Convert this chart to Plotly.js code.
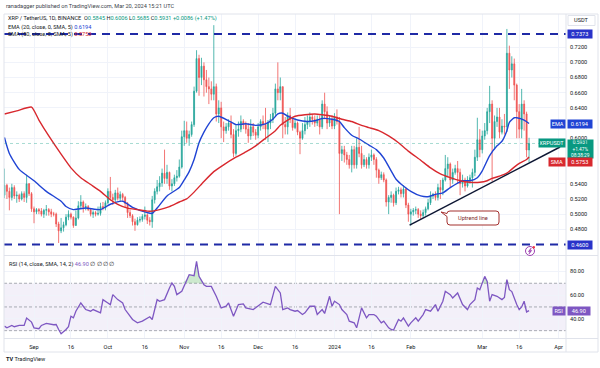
<!DOCTYPE html>
<html><head><meta charset="utf-8">
<script src="https://cdn.plot.ly/plotly-3.0.1.min.js"></script>
<style>html,body{margin:0;padding:0;background:#fff}#chart{width:600px;height:368px}</style>
</head><body><div id="chart"></div>
<script>
// ---------- DATA ----------
const firstDate = '2023-08-20';
const firstOpen = 0.525;
const closes = [
 0.538,0.530,0.522,0.535,0.524,0.525,0.520,0.527,0.522,0.540,0.527,0.507,
 0.503,0.506,0.504,0.500,0.505,0.506,0.503,0.500,0.500,0.487,0.478,0.482,0.486,0.496,0.500,0.496,0.485,0.495,0.511,0.516,0.509,0.510,0.506,0.500,0.502,0.500,0.501,0.510,0.508,0.515,
 0.530,0.522,0.519,0.528,0.521,0.526,0.522,0.514,0.502,0.498,0.490,0.486,0.492,0.493,0.497,0.499,0.492,0.490,0.519,0.530,0.536,0.541,0.554,0.547,0.555,0.537,0.540,0.548,0.550,0.562,0.602,
 0.610,0.600,0.605,0.618,0.662,0.705,0.680,0.695,0.677,0.668,0.665,0.658,0.668,0.632,0.640,0.615,0.610,0.615,0.620,0.605,0.580,0.610,0.612,0.622,0.618,0.612,0.603,0.615,0.608,0.604,
 0.615,0.622,0.618,0.612,0.620,0.625,0.633,0.665,0.660,0.668,0.618,0.615,0.630,0.625,0.614,0.620,0.608,0.600,0.610,0.618,0.622,0.628,0.625,0.620,0.625,0.615,0.645,0.635,0.620,0.625,0.616,
 0.628,0.622,0.580,0.585,0.578,0.572,0.565,0.585,0.565,0.588,0.580,0.565,0.572,0.565,0.575,0.578,0.572,0.558,0.548,0.552,0.545,0.516,0.522,0.525,0.515,0.530,0.532,0.527,0.533,0.512,0.500,
 0.503,0.505,0.506,0.500,0.498,0.502,0.507,0.515,0.524,0.526,0.522,0.535,0.532,0.545,0.560,0.566,0.545,0.555,0.560,0.555,0.540,0.545,0.537,0.545,0.548,0.555,0.575,0.598,0.585,
 0.603,0.610,0.635,0.645,0.600,0.622,0.628,0.608,0.616,0.615,0.712,0.690,0.698,0.670,0.635,0.612,0.645,0.632,0.5845,0.5931];
const highs = [
 0.560,0.540,0.535,0.540,0.538,0.530,0.527,0.530,0.530,0.552,0.541,0.529,
 0.510,0.508,0.508,0.508,0.507,0.512,0.508,0.507,0.503,0.502,0.490,0.495,0.490,0.500,0.505,0.502,0.497,0.505,0.517,0.525,0.518,0.514,0.512,0.508,0.505,0.504,0.510,0.515,0.516,0.518,
 0.534,0.549,0.527,0.532,0.535,0.530,0.528,0.524,0.516,0.506,0.500,0.494,0.496,0.497,0.500,0.510,0.501,0.496,0.524,0.534,0.545,0.550,0.560,0.585,0.565,0.556,0.546,0.552,0.558,0.572,0.610,
 0.623,0.622,0.610,0.622,0.668,0.716,0.710,0.706,0.700,0.690,0.680,0.675,0.749,0.672,0.650,0.648,0.622,0.620,0.625,0.630,0.612,0.618,0.622,0.630,0.625,0.622,0.620,0.625,0.620,0.612,
 0.620,0.625,0.630,0.640,0.624,0.632,0.640,0.672,0.700,0.680,0.668,0.628,0.634,0.640,0.628,0.626,0.622,0.610,0.620,0.628,0.630,0.634,0.632,0.630,0.630,0.630,0.650,0.660,0.642,0.630,0.630,
 0.633,0.638,0.628,0.590,0.590,0.582,0.578,0.590,0.590,0.600,0.615,0.590,0.578,0.575,0.580,0.585,0.580,0.575,0.560,0.556,0.555,0.547,0.525,0.530,0.527,0.535,0.536,0.535,0.538,0.535,0.515,
 0.507,0.508,0.510,0.508,0.505,0.506,0.510,0.520,0.530,0.528,0.530,0.540,0.545,0.548,0.578,0.575,0.568,0.560,0.565,0.570,0.560,0.552,0.548,0.550,0.552,0.560,0.585,0.627,0.612,
 0.610,0.620,0.640,0.669,0.650,0.630,0.640,0.640,0.625,0.632,0.744,0.722,0.708,0.705,0.672,0.645,0.665,0.650,0.635,0.6006];
const lows = [
 0.521,0.520,0.505,0.518,0.520,0.515,0.516,0.518,0.516,0.515,0.524,0.503,
 0.488,0.500,0.500,0.497,0.495,0.498,0.498,0.496,0.497,0.483,0.462,0.475,0.477,0.484,0.492,0.493,0.482,0.485,0.493,0.508,0.502,0.505,0.504,0.497,0.495,0.497,0.498,0.498,0.505,0.505,
 0.513,0.518,0.512,0.515,0.518,0.517,0.518,0.508,0.495,0.495,0.485,0.478,0.485,0.489,0.490,0.493,0.487,0.485,0.482,0.514,0.526,0.530,0.536,0.540,0.540,0.532,0.530,0.537,0.543,0.548,0.560,
 0.590,0.594,0.590,0.602,0.615,0.660,0.656,0.670,0.655,0.660,0.645,0.650,0.650,0.622,0.620,0.600,0.595,0.606,0.610,0.600,0.575,0.577,0.602,0.608,0.612,0.606,0.594,0.598,0.603,0.598,
 0.600,0.610,0.612,0.598,0.595,0.612,0.620,0.628,0.650,0.650,0.600,0.605,0.605,0.620,0.610,0.612,0.604,0.579,0.598,0.605,0.612,0.615,0.618,0.615,0.616,0.605,0.612,0.625,0.612,0.615,0.612,
 0.612,0.618,0.500,0.570,0.568,0.565,0.560,0.555,0.560,0.560,0.575,0.560,0.562,0.560,0.560,0.570,0.565,0.548,0.540,0.545,0.542,0.510,0.500,0.515,0.510,0.512,0.526,0.522,0.522,0.508,0.490,
 0.485,0.498,0.500,0.495,0.493,0.495,0.498,0.505,0.512,0.520,0.518,0.518,0.520,0.525,0.543,0.550,0.535,0.540,0.552,0.540,0.525,0.535,0.530,0.535,0.540,0.535,0.550,0.570,0.575,
 0.580,0.598,0.605,0.620,0.543,0.585,0.615,0.600,0.605,0.605,0.608,0.665,0.680,0.650,0.600,0.600,0.600,0.610,0.575,0.5685];

// EMA 20 and SMA 50 (day = days after 2023-09-01)
const emaDay = [-12,-10,-6,0,5,11,13,16,21,27,31,36,40,46,48,50,54,59,61,63,65,67,69,71,73,75,79,82,86,90,94,97,99,101,103,107,111,114,117,121,124,126,129,132,136,139,142,145,147,150,153,157,160,163,166,169,172,174,177,180,182,185,188,190,192,193,195,196,199,201];
const emaVal = [0.601,0.580,0.559,0.544,0.530,0.517,0.510,0.506,0.508,0.506,0.513,0.517,0.509,0.502,0.501,0.508,0.524,0.535,0.545,0.556,0.572,0.594,0.608,0.619,0.627,0.629,0.623,0.618,0.619,0.617,0.619,0.625,0.632,0.633,0.629,0.624,0.622,0.623,0.626,0.625,0.622,0.614,0.604,0.599,0.591,0.585,0.574,0.557,0.546,0.537,0.530,0.524,0.523,0.526,0.528,0.535,0.541,0.544,0.544,0.548,0.557,0.577,0.590,0.596,0.610,0.621,0.627,0.627,0.624,0.6194];
const smaDay = [-12,-7,-1,2,6,11,15,19,23,27,31,34,38,42,46,48,51,55,59,62,65,69,73,77,82,86,90,94,98,100,103,106,110,114,117,121,125,129,133,136,140,144,148,152,157,161,165,169,173,177,181,184,186,189,192,195,197,200,201];
const smaVal = [0.632,0.636,0.641,0.624,0.603,0.579,0.561,0.548,0.539,0.530,0.519,0.513,0.508,0.506,0.504,0.504,0.506,0.510,0.516,0.520,0.529,0.543,0.556,0.565,0.575,0.582,0.590,0.600,0.610,0.617,0.624,0.629,0.631,0.632,0.631,0.629,0.625,0.622,0.617,0.614,0.610,0.603,0.594,0.583,0.571,0.561,0.553,0.548,0.544,0.542,0.542,0.544,0.547,0.550,0.554,0.562,0.567,0.572,0.5753];

// RSI 14
const rsiDay = [-12,-11,-9,-8,-6,-4,-3,-1,0,2,3,5,8,9,10,11,13,14,15,16,17,19,20,21,23,24,27,28,30,31,32,34,36,37,40,42,44,45,47,48,50,51,53,55,56,57,58,60,62,63,65,66,67,69,70,72,74,75,76,78,79,81,83,85,86,89,90,93,96,97,98,100,101,103,104,106,107,109,110,112,114,115,117,118,120,121,122,124,125,127,128,130,131,133,135,136,138,139,141,142,144,145,146,148,149,150,152,153,155,156,158,159,161,163,164,166,167,169,170,172,173,174,176,177,179,180,181,182,183,184,185,186,187,188,190,191,192,193,194,195,196,197,198,199,200,201];
const rsiVal = [33.8,32.4,34.4,33.3,34.4,34.4,40.6,37.2,32.4,31.6,34.4,36.1,35.0,35.2,31.0,27.4,31.0,33.3,42.2,40.8,46.4,53.4,50.6,47.8,46.4,47.8,45.0,56.2,53.4,52.0,60.4,56.2,53.4,47.8,39.4,36.6,38.0,39.4,41.7,39.4,56.2,54.8,56.2,66.0,70.2,67.4,60.4,63.2,73.0,77.2,76.4,88.4,75.8,68.8,67.4,67.4,59.0,54.8,49.2,50.6,53.4,42.2,52.0,52.6,49.2,47.8,49.2,54.0,52.0,59.0,67.4,61.8,47.8,49.2,47.8,46.4,47.0,43.6,45.0,50.6,50.6,43.6,47.8,44.5,59.0,50.6,54.8,52.0,47.8,43.6,38.0,36.6,32.4,49.2,40.8,43.6,43.6,42.2,36.6,38.0,32.4,31.0,30.5,39.4,38.0,40.8,33.8,36.6,40.8,38.0,43.6,47.8,46.4,52.0,46.4,54.8,63.2,60.4,57.6,61.8,56.2,52.0,47.8,52.0,56.2,66.0,64.6,70.2,75.8,71.6,54.8,60.4,59.5,59.0,56.2,58.0,73.0,64.6,63.0,57.0,52.0,47.8,50.0,54.8,45.8,46.9];

const xTickDates = ['2023-09-01','2023-09-16','2023-10-01','2023-10-16','2023-11-01','2023-11-16','2023-12-01','2023-12-16','2024-01-01','2024-01-16','2024-02-01','2024-03-01','2024-03-16','2024-04-01'];
const xTickLabels = ['Sep','16','Oct','16','Nov','16','Dec','16','2024','16','Feb','Mar','16','Apr'];
const priceTicks = [0.48,0.50,0.52,0.54,0.60,0.64,0.66,0.68,0.70,0.72];  // 0.56/0.58/0.62 sit under the value labels
const rsiTicks = [40,60,80];
const levelHigh = 0.7373, levelLow = 0.4600;
const trendStart = ['2024-01-31 12:00', 0.4855], trendEnd = ['2024-04-01 14:00', 0.5885];
const lastPrice = 0.5931, lastEma = 0.6194, lastSma = 0.5753, lastRsi = 46.90;

// ---------- helpers ----------
const F = 'Roboto, "Liberation Sans", sans-serif';
const BASE = Date.UTC(2023, 8, 1);
const dayToDate = d => new Date(BASE + d * 86400000).toISOString().replace('T',' ').slice(0,19);
const dates = closes.map((_, i) => new Date(Date.parse(firstDate + 'T00:00:00Z') + i*86400000).toISOString().slice(0,10));
const opens = closes.map((c, i) => i === 0 ? firstOpen : closes[i-1]);
const hi = highs.map((h,i)=>Math.max(h, opens[i], closes[i]));
const lo = lows.map((l,i)=>Math.min(l, opens[i], closes[i]));

const Lp = 4, Rp = 566, Tp = 14, Bp = 338;
const px = x => (x - Lp) / (Rp - Lp);
const py = y => (Bp - y) / (Bp - Tp);
const P = (x, y) => px(x) + ',' + py(y);

const teal = '#089981', red = '#f23645', emaC = '#2044d4', smaC = '#d8282e', rsiC = '#7e57c2', lvl = '#1f2aa6', lvlBox = '#2933c9';

// ---------- traces ----------
const traces = [
 {type:'candlestick', x: dates, open: opens, high: hi, low: lo, close: closes, xaxis:'x', yaxis:'y',
  increasing:{line:{color:'#26a69a', width:0.8}, fillcolor:'#26a69a'},
  decreasing:{line:{color:'#ef5350', width:0.8}, fillcolor:'#ef5350'},
  whiskerwidth:0, hoverinfo:'skip', showlegend:false},
 {type:'scatter', mode:'lines', x: emaDay.map(dayToDate), y: emaVal, xaxis:'x', yaxis:'y',
  line:{color: emaC, width:1.4, shape:'spline', smoothing:0.6}, hoverinfo:'skip'},
 {type:'scatter', mode:'lines', x: smaDay.map(dayToDate), y: smaVal, xaxis:'x', yaxis:'y',
  line:{color: smaC, width:1.4, shape:'spline', smoothing:0.5}, hoverinfo:'skip'},
 {type:'scatter', mode:'lines', x: rsiDay.map(dayToDate), y: rsiDay.map(()=>70), xaxis:'x', yaxis:'y2',
  line:{width:0, color:'rgba(0,0,0,0)'}, hoverinfo:'skip'},
 {type:'scatter', mode:'lines', x: rsiDay.map(dayToDate), y: rsiVal.map(v=>Math.max(v,70)), xaxis:'x', yaxis:'y2',
  line:{width:0, color:'rgba(0,0,0,0)'}, fill:'tonexty', fillcolor:'rgba(76,175,80,0.28)', hoverinfo:'skip'},
 {type:'scatter', mode:'lines', x: rsiDay.map(dayToDate), y: rsiVal, xaxis:'x', yaxis:'y2',
  line:{color: rsiC, width:1.3}, hoverinfo:'skip'}
];

// ---------- shapes ----------
const frame = '#e0e3eb';
const shapes = [
 {type:'rect', xref:'paper', yref:'y2', x0:0, x1:1, y0:30, y1:70, fillcolor:'rgba(126,87,194,0.09)', line:{width:0}, layer:'below'},
 ...[70,50,30].map(v=>({type:'line', xref:'paper', yref:'y2', x0:0, x1:1, y0:v, y1:v, line:{color:'#9598a1', width:0.8, dash:'3px,2px'}, layer:'below'})),
 {type:'line', xref:'paper', yref:'y', x0:0, x1:1, y0:lastPrice, y1:lastPrice, line:{color:'rgba(8,153,129,0.45)', width:0.8, dash:'dot'}},
 {type:'line', xref:'paper', yref:'y', x0:0, x1:1, y0:levelHigh, y1:levelHigh, line:{color:lvl, width:2, dash:'8px,6px'}},
 {type:'line', xref:'paper', yref:'y', x0:0, x1:1, y0:levelLow, y1:levelLow, line:{color:lvl, width:2, dash:'8px,6px'}},
 {type:'line', xref:'x', yref:'y', x0:trendStart[0], y0:trendStart[1], x1:trendEnd[0], y1:trendEnd[1], line:{color:'#0d1633', width:1.5}},
 // frame
 {type:'line', xref:'paper', yref:'paper', x0:px(4), x1:px(598), y0:py(14), y1:py(14), line:{color:frame, width:1}},
 {type:'line', xref:'paper', yref:'paper', x0:px(4), x1:px(4), y0:py(14), y1:py(352), line:{color:frame, width:1}},
 {type:'line', xref:'paper', yref:'paper', x0:px(598), x1:px(598), y0:py(14), y1:py(352), line:{color:frame, width:1}},
 {type:'line', xref:'paper', yref:'paper', x0:px(566), x1:px(566), y0:py(14), y1:py(352), line:{color:frame, width:1}},
 {type:'line', xref:'paper', yref:'paper', x0:px(4), x1:px(598), y0:py(255.5), y1:py(255.5), line:{color:frame, width:1}},
 {type:'line', xref:'paper', yref:'paper', x0:px(4), x1:px(598), y0:py(338.5), y1:py(338.5), line:{color:frame, width:1}},
 {type:'line', xref:'paper', yref:'paper', x0:px(4), x1:px(598), y0:py(352), y1:py(352), line:{color:frame, width:1}},
 {type:'rect', xref:'paper', yref:'paper', x0:px(568), x1:px(595), y0:py(15.5), y1:py(25.5), line:{color:frame, width:1}, fillcolor:'#fff'},
 // callout
 {type:'path', xref:'paper', yref:'paper', line:{color:'#a3302f', width:1}, fillcolor:'#fff',
  path:'M'+P(450,211)+' L'+P(496,211)+' Q'+P(499,211)+' '+P(499,214)+' L'+P(499,222)+' Q'+P(499,225)+' '+P(496,225)+' L'+P(450,225)+' Q'+P(447,225)+' '+P(447,222)+' L'+P(447,216.5)+' L'+P(441,212)+' L'+P(447,213.5)+' Q'+P(447,211)+' '+P(450,211)+' Z'},
 // event icon
 {type:'circle', xref:'paper', yref:'paper', x0:px(525.5), x1:px(534.5), y0:py(246.5), y1:py(255.5), line:{color:'#9c3fb0', width:1}, fillcolor:'#fff'},
 {type:'path', xref:'paper', yref:'paper', line:{color:'#9c3fb0', width:0.6}, fillcolor:'#9c3fb0',
  path:'M'+P(531.2,248)+' L'+P(528.4,251.6)+' L'+P(530.2,251.6)+' L'+P(529,254)+' L'+P(531.7,250.4)+' L'+P(529.9,250.4)+' Z'},
 {type:'circle', xref:'paper', yref:'paper', x0:px(532.6), x1:px(535), y0:py(246), y1:py(248.4), line:{width:0}, fillcolor:red}
];

// ---------- annotations ----------
const txt = (x, y, text, o={}) => Object.assign({xref:'paper', yref:'paper', x:px(x), y:py(y), text, showarrow:false,
  xanchor:'left', yanchor:'middle', font:{family:F, size:5.6, color:'#131722'}}, o);
const box = (yv, yref, text, bg, onAxis, w, o={}) => Object.assign({xref:'paper', yref, x: onAxis ? px(567) : px(565.5), y: yv,
  xanchor: onAxis ? 'left' : 'right', yanchor:'middle', text, showarrow:false, bgcolor:bg, borderpad:0.8,
  width:w, align:'center', font:{family:F, size:5.6, color:'#fff'}}, o);
const tv = s => '<span style="color:'+teal+'">'+s+'</span>';

const annotations = [
 txt(4, 6, 'ranadagger published on TradingView.com, Mar 20, 2024 15:21 UTC', {font:{family:F, size:5.6, color:'#3b3f4a'}}),
 txt(6, 19, 'XRP / TetherUS, 1D, BINANCE  O'+tv('0.5845')+' H'+tv('0.6006')+' L'+tv('0.5685')+' C'+tv('0.5931')+' '+tv('+0.0086 (+1.47%)')),
 txt(6, 27.5, 'EMA (20, close, 0, SMA, 5) <span style="color:'+emaC+'">0.6194</span>'),
 txt(6, 35, 'SMA (50, close, 0, SMA, 5) <span style="color:'+smaC+'">0.5753</span>'),
 txt(7, 264, 'RSI (14, close, SMA, 14, 2) <span style="color:'+rsiC+'">46.90</span> ∅ ∅ ∅ ∅'),
 txt(581.5, 20.5, 'USDT', {xanchor:'center'}),
 txt(473, 218, 'Uptrend line', {xanchor:'center', font:{family:F, size:5.6, color:'#7d1f1f'}}),
 txt(4, 359, '<b>TV</b> TradingView', {font:{family:F, size:5.6, color:'#131722'}}),
 box(levelHigh, 'y', '0.7373', lvlBox, true, 22),
 box(levelLow, 'y', '0.4600', lvlBox, true, 22),
 box(lastEma, 'y', 'EMA', emaC, false, 12),
 box(lastEma, 'y', '0.6194', emaC, true, 22),
 box(lastPrice, 'y', 'XRPUSDT', teal, false, 24, {yanchor:'middle'}),
 box(lastPrice, 'y', '0.5931<br>+1.47%<br>08:38:29', teal, true, 24, {yanchor:'top', yshift:4, borderpad:0.4, font:{family:F, size:4.8, color:'#fff'}}),
 box(lastSma, 'y', 'SMA', smaC, false, 14, {yshift:-5}),
 box(lastSma, 'y', '0.5753', smaC, true, 22, {yshift:-5}),
 box(lastRsi, 'y2', 'RSI', rsiC, false, 10),
 box(lastRsi, 'y2', '46.90', rsiC, true, 20)
];

// ---------- layout ----------
const grid = '#f0f3fa';
const layout = {
 width:600, height:368, margin:{l:Lp, r:600-Rp, t:Tp, b:368-Bp, pad:0},
 paper_bgcolor:'#fff', plot_bgcolor:'#fff', showlegend:false, boxgap:0.45,
 font:{family:F, size:5.6, color:'#131722'},
 xaxis:{type:'date', anchor:'y2', range:[dayToDate(-12.18), dayToDate(216)], tickvals:xTickDates, ticktext:xTickLabels,
   showgrid:true, gridcolor:grid, zeroline:false, showline:false, ticks:'', ticklabelstandoff:4,
   tickfont:{family:F, size:5.6, color:'#131722'}, rangeslider:{visible:false}, fixedrange:true},
 yaxis:{domain:[(Bp-255.5)/(Bp-Tp), 1], anchor:'x', side:'right', range:[0.4455, 0.7637], tickvals:priceTicks,
   ticktext:priceTicks.map(v=>v.toFixed(4)), showgrid:true, gridcolor:grid, zeroline:false, ticks:'', ticklabelstandoff:3,
   tickfont:{family:F, size:5.6, color:'#131722'}, fixedrange:true},
 yaxis2:{domain:[0, (Bp-256)/(Bp-Tp)], anchor:'x', side:'right', range:[23.8, 93.0], tickvals:rsiTicks,
   ticktext:rsiTicks.map(v=>v.toFixed(2)), showgrid:true, gridcolor:grid, zeroline:false, ticks:'', ticklabelstandoff:3,
   tickfont:{family:F, size:5.6, color:'#131722'}, fixedrange:true},
 shapes, annotations
};

Plotly.newPlot('chart', traces, layout, {staticPlot:true, displayModeBar:false});
</script>
</body></html>
